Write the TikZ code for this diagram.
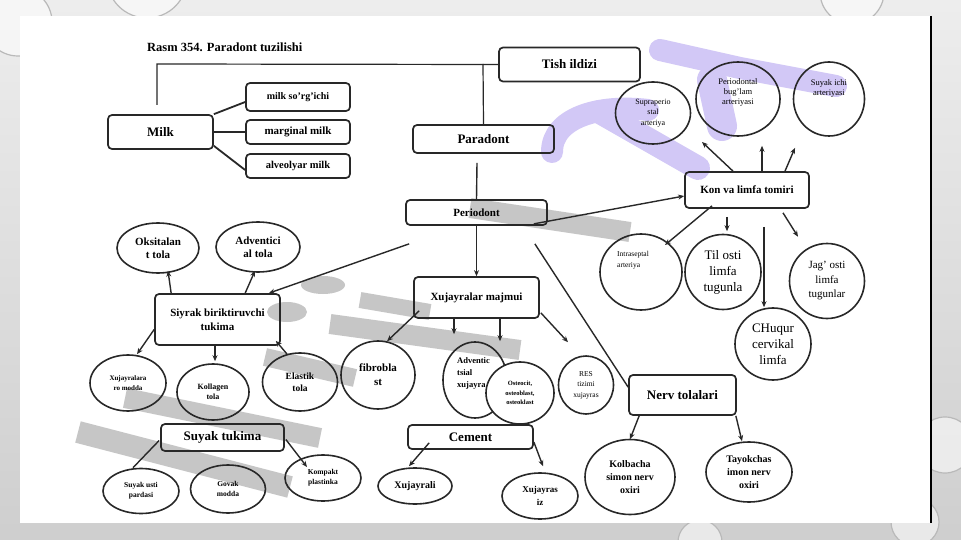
\documentclass[tikz,border=0pt]{standalone}
\usepackage{fontspec}
\setmainfont{Liberation Serif}
\usetikzlibrary{shapes.geometric,arrows.meta,calc}
\definecolor{wpurple}{RGB}{210,200,246}
\definecolor{wgray}{RGB}{198,198,198}
\definecolor{ink}{RGB}{40,40,40}
\begin{document}
\begin{tikzpicture}[x=1pt,y=-1pt,
  box/.style={draw=ink, line width=1.7pt, rounded corners=4pt, inner sep=0pt, align=center},
  ell/.style={draw=ink, ellipse, line width=1.6pt, inner sep=0pt, align=center},
  bf/.style 2 args={font=\fontsize{#1}{#2}\selectfont\bfseries},
  rm/.style 2 args={font=\fontsize{#1}{#2}\selectfont},
  con/.style={draw=ink, line width=1.4pt},
  arr/.style={con, -{Stealth[length=6pt,width=5pt]}},
  wp/.style={draw=wpurple, line cap=round, line join=round},
  wg/.style={draw=wgray, line cap=butt, line join=round},
  bubble/.style={draw=gray!55, line width=1.2pt, fill=white, fill opacity=0.55}
]
\useasboundingbox (0,0) rectangle (961,540);
% slide background
\shade[top color=gray!14, bottom color=gray!38] (0,0) rectangle (961,540);
\draw[bubble] (18,22) circle (34);
\draw[bubble] (147,-22) circle (40);
\draw[bubble] (852,-8) circle (32);
\draw[bubble] (945,445) circle (28);
\draw[bubble] (700,542) circle (22);
\draw[bubble] (915,522) circle (24);
% white panel
\fill[white] (20,16) rectangle (930,523);
\draw[line width=2.4pt] (931,16) -- (931,523);
% watermark (purple)
\draw[wp, line width=22pt] (552,152) .. controls (552,118) and (598,104) .. (648,110);
\draw[wp, line width=22pt] (660,50) -- (740,68) -- (836,86);
\draw[wp, line width=30pt] (712,80) -- (722,126);
\draw[wp, line width=24pt] (600,112) -- (698,168);
% watermark (gray)
\draw[wg, line width=20pt] (470,208) -- (630,232);
\draw[wg, line width=20pt] (330,324) -- (520,350);
\draw[wg, line width=16pt] (360,300) -- (430,312);
\draw[wg, line width=18pt] (265,357) -- (355,378);
\draw[wg, line width=20pt] (125,398) -- (320,438);
\draw[wg, line width=22pt] (78,432) -- (290,487);
\fill[wgray] (323,285) ellipse (22 and 9);
\fill[wgray] (287,312) ellipse (20 and 10);

% title
\node[bf={12.5}{15}, anchor=west, inner sep=0pt] (title) at (147,47) {Rasm 354. Paradont tuzilishi};

% boxes
\node[box, bf={13}{15}, minimum width=141pt, minimum height=34pt] (tish) at (569.5,64.5) {Tish ildizi};
\node[box, bf={13}{15}, minimum width=105pt, minimum height=34pt] (milk) at (160.5,132) {Milk};
\node[box, bf={10}{12}, minimum width=104pt, minimum height=28pt] (msor) at (298,97) {milk so'rg'ichi};
\node[box, bf={11}{13}, minimum width=104pt, minimum height=24pt] (mmarg) at (298,132) {marginal milk};
\node[box, bf={10.5}{12}, minimum width=104pt, minimum height=24pt] (malv) at (298,166) {alveolyar milk};
\node[box, bf={13}{15}, minimum width=141pt, minimum height=28pt] (parad) at (483.5,139) {Paradont};
\node[box, bf={11}{13}, minimum width=141pt, minimum height=25pt] (period) at (476.5,212.5) {Periodont};
\node[box, bf={11}{13}, minimum width=124pt, minimum height=36pt] (kon) at (747,190) {Kon va limfa tomiri};
\node[box, bf={11}{14}, minimum width=125pt, minimum height=51pt] (siyrak) at (217.5,319.5) {Siyrak biriktiruvchi\\tukima};
\node[box, bf={11}{13}, minimum width=125pt, minimum height=41pt] (xuj) at (476.5,297.5) {Xujayralar majmui};
\node[box, bf={13}{15}, minimum width=123pt, minimum height=27pt] (suyak) at (222.5,437.5) {Suyak tukima};
\node[box, bf={13}{15}, minimum width=125pt, minimum height=24pt] (cement) at (470.5,437) {Cement};
\node[box, bf={13}{15}, minimum width=107pt, minimum height=40pt] (nerv) at (682.5,395) {Nerv tolalari};

% right-hand ellipses
\node[ell, rm={8}{10.5}, minimum width=75pt, minimum height=62pt] (supra) at (653,113) {Supraperio\\stal\\arteriya};
\node[ell, minimum width=84pt, minimum height=74pt] (perbug) at (738,99) {};
\node[rm={8.5}{10}, align=center, inner sep=0pt] (perbugt) at (738,92) {Periodontal\\bug'lam\\arteriyasi};
\node[ell, minimum width=71pt, minimum height=74pt] (sich) at (829,99) {};
\node[rm={8.5}{10}, align=center, inner sep=0pt] (sicht) at (829,88) {Suyak ichi\\arteriyasi};
\node[ell, minimum width=82pt, minimum height=76pt] (intra) at (641,272) {};
\node[rm={7.5}{11}, align=left, inner sep=0pt, anchor=north west] (intrat) at (617,251) {Intraseptal\\arteriya};
\node[ell, rm={13}{16}, minimum width=76pt, minimum height=75pt] (tilosti) at (723,272) {Til osti\\limfa\\tugunla};
\node[ell, rm={11}{14.5}, minimum width=75pt, minimum height=75pt] (jag) at (827,281) {Jag' osti\\limfa\\tugunlar};
\node[ell, rm={13}{16}, minimum width=76pt, minimum height=72pt] (chuq) at (773,344) {CHuqur\\cervikal\\limfa};

% left ellipses
\node[ell, bf={11}{13}, minimum width=82pt, minimum height=50pt] (oks) at (158,248) {Oksitalan\\t tola};
\node[ell, bf={11}{13}, minimum width=84pt, minimum height=50pt] (adv) at (258,247) {Adventici\\al tola};
\node[ell, bf={7}{9.5}, minimum width=76pt, minimum height=56pt] (xra) at (128,383) {Xujayralara\\ro modda};
\node[ell, bf={8}{10.5}, minimum width=72pt, minimum height=56pt] (kol) at (213,392) {Kollagen\\tola};
\node[ell, bf={9.5}{12}, minimum width=75pt, minimum height=58pt] (ela) at (300,382) {Elastik\\tola};
\node[ell, bf={11}{14}, minimum width=74pt, minimum height=68pt] (fib) at (378,375) {fibrobla\\st};
\node[ell, minimum width=64pt, minimum height=76pt] (advx) at (475,380) {};
\node[bf={8.5}{12}, align=left, inner sep=0pt, anchor=north west] (advxt) at (457,357) {Adventic\\tsial\\xujayra};
\node[ell, fill=white, bf={6.5}{9.5}, minimum width=68pt, minimum height=62pt] (osteo) at (520,393) {Osteocit,\\osteoblast,\\osteoklast};
\node[ell, rm={7.5}{10.5}, minimum width=55pt, minimum height=58pt] (res) at (586,385) {RES\\tizimi\\xujayras};

% bottom ellipses
\node[ell, bf={7.5}{10}, minimum width=76pt, minimum height=45pt] (sus) at (141,491) {Suyak usti\\pardasi};
\node[ell, bf={7.5}{10}, minimum width=75pt, minimum height=48pt] (gov) at (228,489) {Govak\\modda};
\node[ell, bf={7.5}{10}, minimum width=76pt, minimum height=46pt] (kom) at (323,478) {Kompakt\\plastinka};
\node[ell, bf={10}{12}, minimum width=74pt, minimum height=36pt] (xli) at (415,486) {Xujayrali};
\node[ell, bf={9}{13}, minimum width=76pt, minimum height=46pt] (xsiz) at (540,496) {Xujayras\\iz};
\node[ell, bf={10}{13}, minimum width=90pt, minimum height=75pt] (kolb) at (630,477) {Kolbacha\\simon nerv\\oxiri};
\node[ell, bf={10}{13}, minimum width=86pt, minimum height=60pt] (tay) at (749,472) {Tayokchas\\imon nerv\\oxiri};

% top tree
\coordinate (j1) at (157,64);
\coordinate (j2) at (483,64);
\coordinate (j3) at (157,105);
\draw[con, line width=1.2pt] (tish.west) -- (j1) -- (j3);
\draw[con, line width=1.2pt] (j2) -- (parad.north);
\draw[con, line width=1.8pt] (milk.north east) -- ($(msor.west)+(0,5)$);
\draw[con, line width=1.8pt] (milk.east) -- (mmarg.west);
\draw[con, line width=1.8pt] ($(milk.south east)+(0,-4)$) -- ($(malv.west)+(0,4)$);
\draw[con] ($(parad.south)+(-6.5,9)$) -- (period.north);

% periodont outgoing
\draw[arr] ($(period.south east)+(-14,-2)$) -- ($(kon.west)+(0,6)$);
\draw[con] ($(period.south east)+(-13,18)$) -- ($(nerv.north west)+(0,13)$);
\draw[arr] ($(period.south west)+(4,18)$) -- ($(siyrak.north east)+(-12,0)$);
\draw[arr] (period.south) -- (xuj.north);

% kon arrows
\draw[arr] ($(kon.north)+(-14,0)$) -- ($(supra.center)+(49,29)$);
\draw[arr] ($(kon.north)+(15,0)$) -- ($(perbug.south)+(24,9)$);
\draw[arr] ($(kon.north)+(38,0)$) -- ($(sich.south)+(-34,11)$);
\draw[arr] ($(kon.south)+(-35,-3)$) -- ($(intra.center)+(24,-27)$);
\draw[arr] ($(kon.south)+(-20,8)$) -- ($(tilosti.north)+(4,-2.5)$);
\draw[arr] ($(kon.south)+(17,18)$) -- ($(chuq.north)+(-9,0)$);
\draw[arr] ($(kon.south)+(36,4)$) -- ($(jag.north)+(-29,-6)$);

% siyrak arrows
\draw[arr] ($(siyrak.north west)+(17,0)$) -- ($(oks.south)+(10,-3)$);
\draw[arr] ($(siyrak.north west)+(91,0)$) -- ($(adv.south)+(-3,-2)$);
\draw[arr] ($(siyrak.west)+(0,10)$) -- ($(xra.north)+(9,0)$);
\draw[arr] ($(siyrak.south)+(-2.5,0)$) -- ($(kol.north)+(2,-2)$);
\draw[arr] (ela.115) -- ($(siyrak.south east)+(-5,-5)$);

% xujayralar arrows
\draw[arr] ($(xuj.south west)+(6,-8)$) -- (fib.75);
\draw[arr] ($(xuj.south)+(-22.5,0)$) -- ($(advx.north)+(-21,-7)$);
\draw[arr] ($(xuj.south)+(23.5,0)$) -- ($(osteo.north)+(-20,-20)$);
\draw[arr] ($(xuj.south east)+(1,-6)$) -- ($(res.north)+(-18,-13)$);

% suyak, cement, nerv
\draw[con] ($(suyak.west)+(-1,3)$) -- ($(sus.north)+(-8,0)$);
\draw[arr] ($(suyak.east)+(1,2)$) -- ($(kom.center)+(-16,-11)$);
\draw[arr] ($(cement.south west)+(22,-7)$) -- ($(xli.north)+(-6,-1)$);
\draw[arr] ($(cement.east)+(0,5)$) -- ($(xsiz.north)+(3,-6)$);
\draw[arr] ($(nerv.south west)+(11,0)$) -- ($(kolb.north)+(0,0.5)$);
\draw[arr] ($(nerv.south east)+(-1,0)$) -- ($(tay.north)+(-7,0)$);
\end{tikzpicture}
\end{document}
